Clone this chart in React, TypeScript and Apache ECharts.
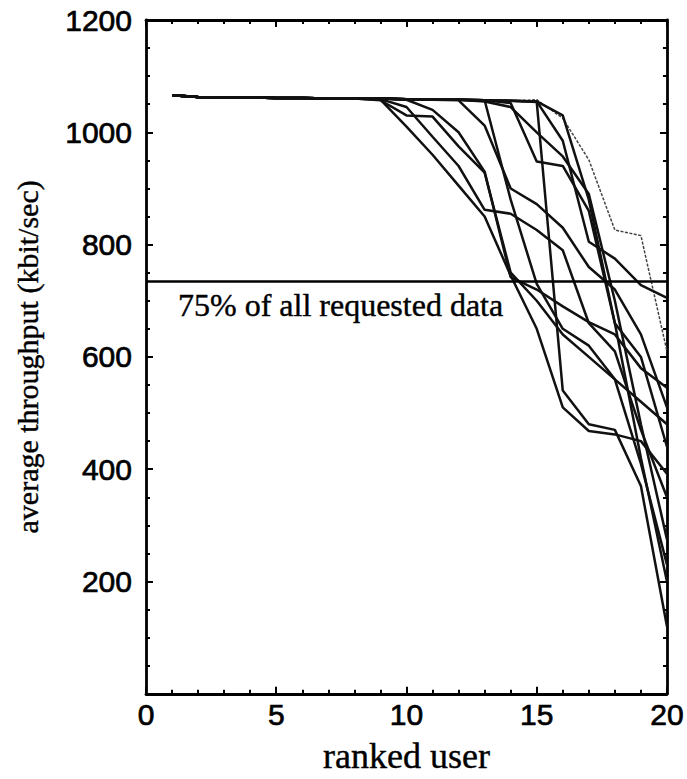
import React, { useEffect, useRef } from "react";
import * as echarts from "echarts";

// Ranked users (x axis) and per-run average throughput in kbit/sec
const users = [1, 2, 3, 4, 5, 6, 7, 8, 9, 10, 11, 12, 13, 14, 15, 16, 17, 18, 19, 20];

const runA = [1066, 1063, 1062, 1062, 1061, 1061, 1060, 1060, 1058, 1010, 960, 905, 850, 745, 650, 510, 468, 462, 450, 392];
const runB = [1066, 1063, 1062, 1062, 1061, 1061, 1060, 1060, 1057, 1030, 1028, 975, 928, 750, 700, 640, 600, 560, 520, 480];
const runC = [1066, 1063, 1062, 1062, 1061, 1061, 1060, 1060, 1059, 1045, 992, 940, 862, 855, 826, 790, 660, 610, 470, 350];
const runD = [1066, 1063, 1062, 1062, 1061, 1061, 1060, 1060, 1060, 1058, 1040, 1000, 930, 742, 720, 690, 662, 640, 580, 545];
const runE = [1066, 1063, 1062, 1062, 1061, 1061, 1060, 1060, 1060, 1059, 1058, 1057, 1012, 900, 872, 830, 760, 720, 640, 510];
const runF = [1066, 1063, 1062, 1062, 1061, 1061, 1060, 1060, 1060, 1059, 1058, 1058, 1057, 880, 730, 650, 620, 560, 410, 230];
const runG = [1066, 1063, 1062, 1062, 1061, 1061, 1060, 1060, 1060, 1059, 1058, 1058, 1055, 1045, 1000, 957, 890, 700, 480, 275];
const runH = [1066, 1063, 1062, 1062, 1061, 1061, 1060, 1060, 1060, 1059, 1058, 1058, 1057, 1052, 948, 940, 860, 660, 420, 200];
const runI = [1066, 1063, 1062, 1062, 1061, 1061, 1060, 1060, 1060, 1059, 1058, 1058, 1057, 1056, 1054, 540, 480, 470, 370, 120];
const runJ = [1066, 1063, 1062, 1062, 1061, 1061, 1060, 1060, 1060, 1059, 1058, 1058, 1057, 1056, 1055, 1030, 880, 660, 600, 440];
const runK = [1066, 1063, 1062, 1062, 1061, 1061, 1060, 1060, 1060, 1059, 1058, 1058, 1057, 1056, 1055, 985, 805, 775, 728, 705];
const runL = [1066, 1063, 1062, 1062, 1061, 1061, 1060, 1060, 1060, 1059, 1058, 1058, 1057, 1056, 1058, 1025, 951, 826, 816, 610];

const solidRuns = [runA, runB, runC, runD, runE, runF, runG, runH, runI, runJ, runK];
const thinRun = runL;

// Throughput that covers 75% of all requested data
const requestedLevel = 735;
const requestedLabel = "75% of all requested data";

const xTicks = [0, 5, 10, 15, 20];
const yTicks = [0, 200, 400, 600, 800, 1000, 1200];

const SERIF = "'Liberation Serif', 'Times New Roman', serif";
const SANS = "'Liberation Sans', Arial, sans-serif";

export default function App() {
  const ref = useRef<HTMLDivElement>(null);

  useEffect(() => {
    if (!ref.current) return;
    const chart = echarts.init(ref.current, undefined, { renderer: "svg" });

    const frameAxis = {
      axisLine: { show: true, onZero: false, lineStyle: { color: "#000", width: 2.8 } },
      axisTick: { show: true, inside: true, length: 7, lineStyle: { color: "#000", width: 2 } },
      minorTick: { show: true, splitNumber: 5, length: 4, lineStyle: { color: "#000", width: 2 } },
      splitLine: { show: false },
      minorSplitLine: { show: false },
    };

    const tickText = {
      color: "#000",
      fontFamily: SANS,
      fontSize: 30,
      textBorderColor: "#000",
      textBorderWidth: 0.7,
      formatter: (v: number) => String(v),
    };

    const serifText = {
      color: "#000",
      fontFamily: SERIF,
      textBorderColor: "#000",
      textBorderWidth: 0.4,
    };

    const toPairs = (vals: number[]) => vals.map((v, i) => [users[i], v]);

    const series: any[] = solidRuns.map((run, idx) => ({
      type: "line",
      xAxisIndex: 0,
      yAxisIndex: 0,
      data: toPairs(run),
      symbol: "none",
      silent: true,
      lineStyle: { color: "#111", width: 2.5 },
      z: 3,
      ...(idx === 0
        ? {
            markLine: {
              silent: true,
              symbol: "none",
              lineStyle: { color: "#000", width: 2.6, type: "solid" },
              label: {
                show: true,
                formatter: requestedLabel,
                position: "insideStartBottom",
                distance: [32, 8],
                ...serifText,
                fontSize: 32,
              },
              data: [{ yAxis: requestedLevel }],
            },
          }
        : {}),
    }));

    series.push({
      type: "line",
      data: toPairs(thinRun),
      symbol: "none",
      silent: true,
      lineStyle: { color: "#444", width: 1.5, type: [3, 1.5] },
      z: 2,
    });

    chart.setOption({
      animation: false,
      backgroundColor: "#fff",
      grid: { left: 146, right: 20, top: 20, bottom: 76, containLabel: false },
      xAxis: [
        {
          type: "value",
          min: xTicks[0],
          max: xTicks[xTicks.length - 1],
          interval: 5,
          position: "bottom",
          ...frameAxis,
          axisLabel: { ...tickText, margin: 6 },
          name: "ranked user",
          nameLocation: "middle",
          nameGap: 44,
          nameTextStyle: { ...serifText, fontSize: 36 },
        },
        {
          type: "value",
          min: xTicks[0],
          max: xTicks[xTicks.length - 1],
          interval: 5,
          position: "top",
          ...frameAxis,
          axisLabel: { show: false },
        },
      ],
      yAxis: [
        {
          type: "value",
          min: yTicks[0],
          max: yTicks[yTicks.length - 1],
          interval: 200,
          position: "left",
          ...frameAxis,
          minorTick: { ...frameAxis.minorTick, splitNumber: 4 },
          axisLabel: { ...tickText, margin: 14, showMinLabel: false },
          name: "average throughput (kbit/sec)",
          nameLocation: "middle",
          nameGap: 104,
          nameTextStyle: { ...serifText, fontSize: 30 },
        },
        {
          type: "value",
          min: yTicks[0],
          max: yTicks[yTicks.length - 1],
          interval: 200,
          position: "right",
          ...frameAxis,
          minorTick: { ...frameAxis.minorTick, splitNumber: 4 },
          axisLabel: { show: false },
        },
      ],
      series,
    });

    return () => chart.dispose();
  }, []);

  return (
    <div
      ref={ref}
      style={{ position: "fixed", left: 0, top: 0, width: 687, height: 779, background: "#fff" }}
    />
  );
}
